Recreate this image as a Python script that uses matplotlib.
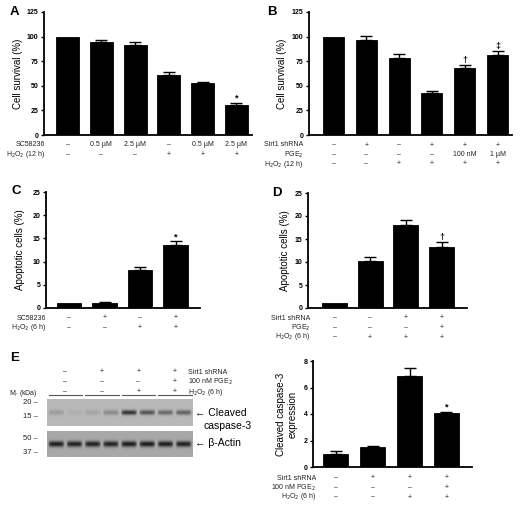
import matplotlib
matplotlib.use("Agg")
import matplotlib.pyplot as plt
import matplotlib.transforms as mtransforms
import numpy as np

plt.rcParams['font.family'] = ['Liberation Sans', 'DejaVu Sans']

W, H = 527, 509

# panel A
a_vals = [100, 94.5, 91.5, 60.5, 52.5, 30]
a_err = [0, 2.5, 3.5, 3.5, 1.5, 2.5]
a_rows = [("SC58236", ["\u2013", "0.5 \u00b5M", "2.5 \u00b5M", "\u2013", "0.5 \u00b5M", "2.5 \u00b5M"]),
          ("H$_2$O$_2$ (12 h)", ["\u2013", "\u2013", "\u2013", "+", "+", "+"])]
a_marks = ["", "", "", "", "", "*"]

# panel B
b_vals = [100, 96.5, 78.5, 43, 68.5, 81.5]
b_err = [0, 4.5, 4, 2, 2.5, 4]
b_rows = [("Sirt1 shRNA", ["\u2013", "+", "\u2013", "+", "+", "+"]),
          ("PGE$_2$", ["\u2013", "\u2013", "\u2013", "\u2013", "100 nM", "1 \u00b5M"]),
          ("H$_2$O$_2$ (12 h)", ["\u2013", "\u2013", "+", "+", "+", "+"])]
b_marks = ["", "", "", "", "\u2020", "\u2021"]

# panel C
c_vals = [1.0, 1.1, 8.1, 13.6]
c_err = [0, 0.2, 0.7, 0.8]
c_rows = [("SC58236", ["\u2013", "+", "\u2013", "+"]),
          ("H$_2$O$_2$ (6 h)", ["\u2013", "\u2013", "+", "+"])]
c_marks = ["", "", "", "*"]

# panel D
d_vals = [1.1, 10.2, 18.0, 13.2]
d_err = [0, 0.8, 1.1, 1.1]
d_rows = [("Sirt1 shRNA", ["\u2013", "\u2013", "+", "+"]),
          ("PGE$_2$", ["\u2013", "\u2013", "\u2013", "+"]),
          ("H$_2$O$_2$ (6 h)", ["\u2013", "+", "+", "+"])]
d_marks = ["", "", "", "\u2020"]

# panel E quantification
e_vals = [1.0, 1.5, 6.85, 4.1]
e_err = [0.18, 0.08, 0.65, 0.08]
e_rows = [("Sirt1 shRNA", ["\u2013", "+", "+", "+"]),
          ("100 nM PGE$_2$", ["\u2013", "\u2013", "\u2013", "+"]),
          ("H$_2$O$_2$ (6 h)", ["\u2013", "\u2013", "+", "+"])]
e_marks = ["", "", "", "*"]

# panel E blot (band darkness per lane)
casp_band = [0.18, 0.06, 0.12, 0.30, 0.85, 0.65, 0.50, 0.55]
actin_band = [0.95, 0.92, 0.93, 0.92, 0.95, 0.97, 0.95, 0.93]
blot_header = [("Sirt1 shRNA", ["\u2013", "+", "+", "+"]),
               ("100 nM PGE$_2$", ["\u2013", "\u2013", "\u2013", "+"]),
               ("H$_2$O$_2$ (6 h)", ["\u2013", "\u2013", "+", "+"])]
markers = [("20", 403), ("15", 417), ("50", 438), ("37", 452)]

fig = plt.figure(figsize=(W / 100, H / 100), dpi=100)
ov = fig.add_axes([0, 0, 1, 1])
ov.set_xlim(0, W)
ov.set_ylim(H, 0)
ov.axis("off")


def add_ax(left, top, right, bottom):
    return fig.add_axes([left / W, 1 - bottom / H, (right - left) / W, (bottom - top) / H])


def bar_panel(box, vals, err, marks, ymax, yticks, xlim, width, ylabel, rows, row_y0, row_x, ylab_x):
    ax = add_ax(*box)
    x = np.arange(len(vals))
    ax.bar(x, vals, width=width, color="black", edgecolor="black", linewidth=0.6, zorder=2)
    for xi, v, e, m in zip(x, vals, err, marks):
        if e > 0:
            ax.errorbar(xi, v, yerr=[[0], [e]], color="black", capsize=4.5, elinewidth=1.0,
                        capthick=1.0, zorder=1)
        if m:
            ax.text(xi, v + e, m, ha="center", va="bottom", fontsize=6.5, fontweight="bold")
    ax.set_xlim(*xlim)
    ax.set_ylim(0, ymax)
    ax.set_yticks(yticks)
    ax.set_xticks([])
    for s in ["top", "right"]:
        ax.spines[s].set_visible(False)
    for s in ["left", "bottom"]:
        ax.spines[s].set_linewidth(1.3)
    ax.tick_params(axis="y", length=2.5, width=1.0, pad=1.5, labelsize=5)
    for t in ax.get_yticklabels():
        t.set_fontweight("bold")
    tr = mtransforms.blended_transform_factory(ax.transData, ov.transData)
    for i, (name, labs) in enumerate(rows):
        y = row_y0 + 9.5 * i
        ov.text(row_x, y, name, ha="right", va="center", fontsize=5, color="#222222")
        for xi, lab in zip(x, labs):
            ax.text(xi, y, lab, ha="center", va="center", fontsize=5, transform=tr,
                    clip_on=False, color="#222222")
    ov.text(ylab_x, (box[1] + box[3]) / 2, ylabel, rotation=90, ha="center", va="center",
            fontsize=7, multialignment="center")
    return ax


bar_panel((44, 12, 252, 135), a_vals, a_err, a_marks, 125, [0, 25, 50, 75, 100, 125],
          (-0.7, 5.46), 0.68, "Cell survival (%)", a_rows, 145, 45, 18)
bar_panel((309, 12, 512, 135), b_vals, b_err, b_marks, 125, [0, 25, 50, 75, 100, 125],
          (-0.75, 5.44), 0.64, "Cell survival (%)", b_rows, 145, 303, 282)
bar_panel((46, 192, 200, 308), c_vals, c_err, c_marks, 25, [0, 5, 10, 15, 20, 25],
          (-0.65, 3.69), 0.69, "Apoptotic cells (%)", c_rows, 318, 46, 20)
bar_panel((308, 193, 467, 308), d_vals, d_err, d_marks, 25, [0, 5, 10, 15, 20, 25],
          (-0.74, 3.71), 0.70, "Apoptotic cells (%)", d_rows, 318, 310, 285)
bar_panel((313, 361, 472, 467), e_vals, e_err, e_marks, 8, [0, 2, 4, 6, 8],
          (-0.61, 3.69), 0.68, "Cleaved caspase-3\nexpression", e_rows, 478, 316, 287)

# panel letters
for lab, (px, py) in {"A": (10, 12), "B": (267, 12), "C": (11, 191), "D": (272, 193), "E": (10, 358)}.items():
    ov.text(px, py, lab, fontsize=9.5, fontweight="bold", ha="left", va="center")

# western blot
bx0, bx1 = 47, 193
nl = len(casp_band)
lane_w = (bx1 - bx0) / nl
lane_c = bx0 + lane_w * (np.arange(nl) + 0.5)


def blot_img(band, bg, depth, sig_y, ny=54, nx=292):
    yy = np.linspace(0, 1, ny)[:, None]
    xx = np.linspace(0, nl, nx)[None, :]
    lane = np.clip(xx.astype(int), 0, nl - 1)
    pos = xx - lane - 0.5
    amp = np.array(band)[lane]
    prof = np.exp(-((yy - 0.5) / sig_y) ** 2) * np.clip(1 - (np.abs(pos) / 0.45) ** 6, 0, 1)
    return np.clip(bg - depth * amp * prof, 0, 1)


ov.imshow(blot_img(casp_band, 0.72, 0.62, 0.09), cmap="gray", vmin=0, vmax=1,
          extent=(bx0, bx1, 426, 399), aspect="auto", interpolation="bilinear")
ov.imshow(blot_img(actin_band, 0.66, 0.58, 0.11), cmap="gray", vmin=0, vmax=1,
          extent=(bx0, bx1, 457, 431), aspect="auto", interpolation="bilinear")
ov.set_xlim(0, W)
ov.set_ylim(H, 0)

pair_c = (lane_c[0::2] + lane_c[1::2]) / 2
for i, (name, labs) in enumerate(blot_header):
    y = 372 + 10 * i
    ov.text(188, y, name, ha="left", va="center", fontsize=5, color="#222222")
    for xc, lab in zip(pair_c, labs):
        ov.text(xc, y, lab, ha="center", va="center", fontsize=5, color="#222222")
for k in range(4):
    ov.plot([bx0 + 2 * k * lane_w + 1.5, bx0 + 2 * (k + 1) * lane_w - 1.5], [395, 395],
            color="#555555", lw=0.8)
ov.text(9, 393.5, "M$_r$ (kDa)", ha="left", va="center", fontsize=5, color="#222222")
for lab, y in markers:
    ov.text(38, y, lab + " \u2013", ha="right", va="center", fontsize=5.5, color="#222222")
ov.text(195, 413, "\u2190 Cleaved", ha="left", va="center", fontsize=7.5)
ov.text(204, 426, "caspase-3", ha="left", va="center", fontsize=7.5)
ov.text(195, 443, "\u2190 \u03b2-Actin", ha="left", va="center", fontsize=7.5)

fig.savefig("out.png", dpi=100)
